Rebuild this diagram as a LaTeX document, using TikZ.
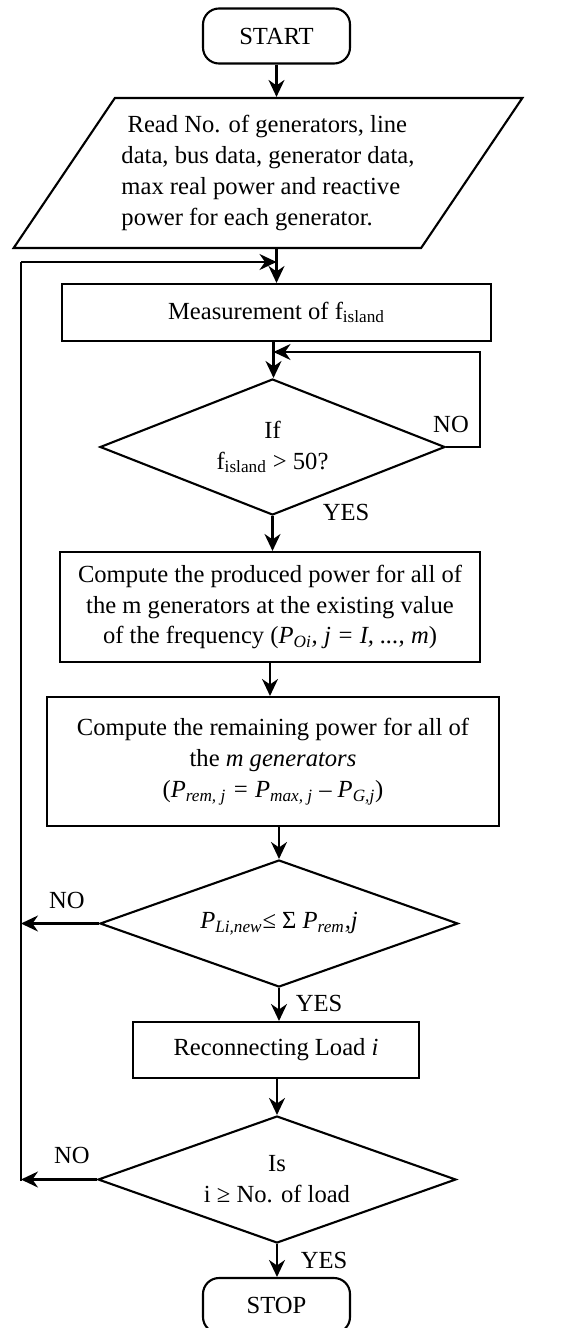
\documentclass[tikz,border=0pt]{standalone}
\usepackage{fontspec}
\setmainfont{Liberation Serif}
\usetikzlibrary{
  arrows.meta,
  positioning,
  shapes.geometric
}
\newcommand{\flowFont}{\fontsize{14}{17.6}\selectfont}
\tikzset{
  flowTerminal/.style={
    draw,
    rounded corners=0.32cm,
    line width=1.2pt,
    minimum width=2.94cm,
    minimum height=1.1cm,
    align=center,
    font=\flowFont
  },
  flowInput/.style={
    draw,
    trapezium,
    trapezium left angle=50,
    trapezium right angle=130,
    trapezium stretches=true,
    line width=1.2pt,
    minimum width=10.2cm,
    minimum height=3.0cm,
    align=left,
    font=\flowFont,
    inner sep=0pt
  },
  flowBox/.style={
    draw,
    line width=1.2pt,
    align=center,
    font=\flowFont,
    inner sep=2pt
  },
  flowDecision/.style={
    draw,
    diamond,
    aspect=2.6,
    line width=1.2pt,
    align=center,
    font=\flowFont,
    inner sep=0pt
  },
  flowArrow/.style={-{Stealth[length=3.4mm, width=3.2mm]}, line width=1.2pt},
  flowLine/.style={line width=1.2pt},
  flowLabel/.style={font=\flowFont, inner sep=0pt}
}

\begin{document}
\begin{tikzpicture}[x=1cm,y=1cm]
  \useasboundingbox (0,0) rectangle (11.48,-26.56);

  \node[flowTerminal] (start) at (5.53,-0.72) {START};
  \node[flowInput] (read) at (5.36,-3.46)
    {\hspace{0.25em}Read No. of generators, line\\
    data, bus data, generator data,\\
    max real power and reactive\\
    power for each generator.};
  \node[flowBox, minimum width=8.58cm, minimum height=1.14cm]
    (meas) at (5.53,-6.25) {Measurement of f\textsubscript{island}};
  \node[flowDecision, minimum width=6.9cm, minimum height=2.72cm]
    (ifFreq) at (5.45,-8.94) {If\\ f\textsubscript{island} > 50?};
  \node[flowBox, minimum width=8.4cm, minimum height=2.2cm]
    (produced) at (5.40,-12.14)
    {Compute the produced power for all of\\
    the m generators at the existing value\\
    of the frequency (\textit{P\textsubscript{Oi}, j = I, ..., m})};
  \node[flowBox, minimum width=9.04cm, minimum height=2.58cm]
    (remaining) at (5.46,-15.23)
    {Compute the remaining power for all of\\
    the \textit{m generators}\\
    (\textit{P\textsubscript{rem, j} = P\textsubscript{max, j} – P\textsubscript{G,j}})};
  \node[flowDecision, minimum width=7.16cm, minimum height=2.54cm]
    (ifPower) at (5.58,-18.47)
    {\textit{P\textsubscript{Li,new}}≤ Σ \textit{P\textsubscript{rem},j}};
  \node[flowBox, minimum width=5.72cm, minimum height=1.12cm]
    (reconnect) at (5.52,-21.0) {Reconnecting Load \textit{i}};
  \node[flowDecision, minimum width=7.16cm, minimum height=2.54cm]
    (ifLoad) at (5.54,-23.59) {Is\\ i ≥ No. of load};
  \node[flowTerminal] (stop) at (5.53,-26.11) {STOP};

  \coordinate (railTop) at (0.42,-5.24);
  \coordinate (railBot) at (0.42,-23.62);
  \coordinate (retry) at (5.47,-7.04);

  \draw[flowArrow] (start) -- (start |- read.north);
  \draw[flowLine] (start |- read.south) -- (start |- railTop);
  \draw[flowArrow] (start |- railTop) -- (start |- meas.north);
  \draw[flowArrow] (meas.south -| retry) -- (retry |- ifFreq.north);
  \draw[flowArrow] (ifFreq.east) -- ++(0.68,0) |- (retry);
  \draw[flowArrow] (ifFreq.south) -- (ifFreq.south |- produced.north);
  \draw[flowArrow] (produced.south) -- (produced.south |- remaining.north);
  \draw[flowArrow] (ifPower |- remaining.south) -- (ifPower.north);
  \draw[flowArrow] (ifPower.west) -- (ifPower.west -| railTop);
  \draw[flowArrow] (ifPower.south) -- (ifPower.south |- reconnect.north);
  \draw[flowArrow] (reconnect.south -| ifLoad) -- (ifLoad.north);
  \draw[flowArrow] (ifLoad.west) -- (ifLoad.west -| railBot);
  \draw[flowArrow] (ifLoad.south) -- (ifLoad.south |- stop.north);
  \draw[flowLine] (railBot) -- (railTop);
  \draw[flowArrow] (railTop) -- (railTop -| start);

  \node[flowLabel] (noFreq) at (9.02,-8.48) {NO};
  \node[flowLabel] (yesFreq) at (6.92,-10.24) {YES};
  \node[flowLabel] (noPower) at (1.34,-18.0) {NO};
  \node[flowLabel] (yesPower) at (6.38,-20.06) {YES};
  \node[flowLabel] (noLoad) at (1.44,-23.1) {NO};
  \node[flowLabel] (yesLoad) at (6.48,-25.2) {YES};
\end{tikzpicture}
\end{document}
